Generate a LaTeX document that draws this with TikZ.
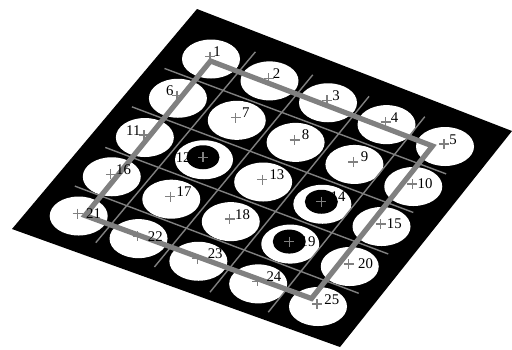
\documentclass[tikz,border=0pt]{standalone}
\usepackage{fontspec}
\setmainfont{Liberation Serif}
\usetikzlibrary{calc, shapes.geometric}
\definecolor{linegray}{RGB}{128,128,128}

\begin{document}
\begin{tikzpicture}[x=0.5pt, y=-0.5pt,
    cell/.style={ellipse, fill=white, minimum width=29pt, minimum height=19.5pt, inner sep=0pt},
    hole/.style={ellipse, fill=black, minimum width=16.5pt, minimum height=12pt, inner sep=0pt},
    gridline/.style={draw=linegray, line width=0.7pt},
    track/.style={draw=linegray, line width=2.6pt},
    plus/.style={draw=linegray, line width=0.65pt},
    num/.style={inner sep=0pt, font=\fontsize{7.4}{8}\selectfont}]
    \useasboundingbox (0,0) rectangle (512,349);

    % Black board
    \fill (197,9) -- (512,131) -- (340,347) -- (12,229) -- cycle;

    % Centres of the four corner cells
    \coordinate (q1) at (211,59);
    \coordinate (q5) at (445,146.5);
    \coordinate (q21) at (78.7,216);
    \coordinate (q25) at (318,306.5);

    % Place the cells row by row
    \foreach \j in {0,...,4} {
        \coordinate (rl) at ($(q1)!\j/4!(q21)$);
        \coordinate (rr) at ($(q5)!\j/4!(q25)$);
        \foreach \i in {0,...,4} {
            \pgfmathtruncatemacro\n{5*\j+\i+1}
            \node[cell] (e\n) at ($(rl)!\i/4!(rr)$) {};
            \coordinate (x\n) at ($(e\n.center)+(-1,-2.5)$);
        }
    }

    % Black centres of the rings
    \foreach \n in {12,14,19}
        \node[hole] (h\n) at (x\n) {};

    % Grid lines between the rows
    \foreach \j/\s/\t [count=\k] in {0.52/-0.5/4.3, 1.5/-0.5/4.27, 2.48/-0.4/4.37, 3.45/-0.37/4.39} {
        \coordinate (ra) at ($(q1)!\j/4!(q21)$);
        \coordinate (rb) at ($(q5)!\j/4!(q25)$);
        \coordinate (rs\k) at ($(ra)!\s/4!(rb)$);
        \coordinate (rt\k) at ($(ra)!\t/4!(rb)$);
        \draw[gridline] (rs\k) -- (rt\k);
    }

    % Grid lines between the columns
    \foreach \i/\s/\t [count=\k] in {0.5/-0.46/4.39, 1.5/-0.43/4.43, 2.47/-0.42/4.51, 3.42/-0.43/4.47} {
        \coordinate (ca) at ($(q1)!\i/4!(q5)$);
        \coordinate (cb) at ($(q21)!\i/4!(q25)$);
        \coordinate (cs\k) at ($(ca)!\s/4!(cb)$);
        \coordinate (ct\k) at ($(ca)!\t/4!(cb)$);
        \draw[gridline] (cs\k) -- (ct\k);
    }

    % Grey track round the outer cells
    \coordinate (p1) at (210.5,61);
    \coordinate (p5) at (432.5,146);
    \coordinate (p25) at (311.5,298.5);
    \coordinate (p21) at (85,215.5);
    \draw[track] (p1) -- (p5) -- (p25) -- (p21) -- cycle;

    % Crosses
    \foreach \n in {1,...,25}
        \draw[plus] (x\n) +(-5,0) -- +(5,0) +(0,-5) -- +(0,5);

    % Numbers
    \foreach \n/\a/\d in {1/base west/1.5, 2/base west/2, 3/base west/2.5, 4/base west/2.5,
            5/base west/2.5, 6/base east/-1.5, 7/base west/3, 8/base west/3.5,
            9/base west/3.5, 10/west/2.5, 11/base east/-1.5, 12/east/-6,
            13/base west/3.5, 14/base west/4.5, 15/west/3, 16/base west/2.5,
            17/base west/3, 18/base west/2.5, 19/west/5.5, 20/west/4.5,
            21/west/4, 22/west/5, 23/base west/5, 24/base west/4.5, 25/base west/3.5}
        \node[num, anchor=\a, xshift=\d pt] (l\n) at (x\n) {\n};
\end{tikzpicture}
\end{document}
